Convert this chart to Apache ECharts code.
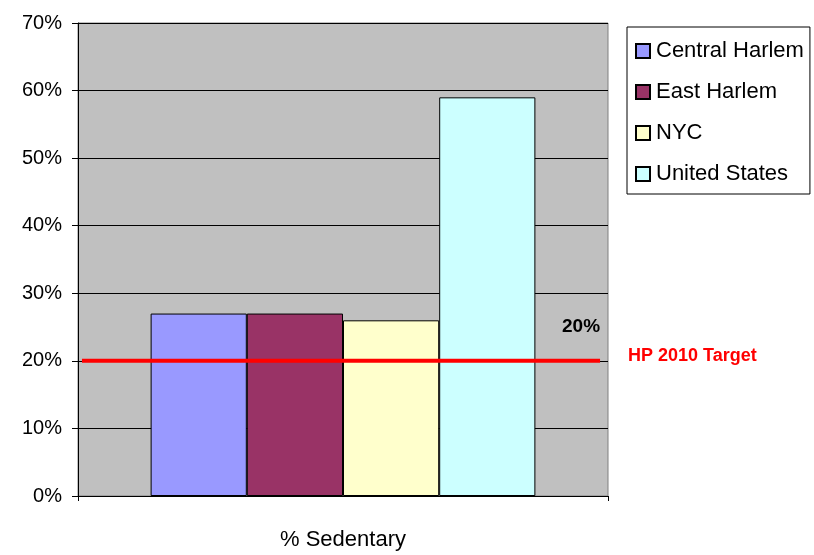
<!DOCTYPE html>
<html><head><meta charset="utf-8">
<script src="https://cdn.jsdelivr.net/npm/echarts@6/dist/echarts.min.js"></script>
<style>html,body{margin:0;padding:0;background:#fff}#c{width:814px;height:555px}</style>
</head><body><div id="c"></div>
<script>
const categories = ['% Sedentary'];
const seriesNames = ['Central Harlem', 'East Harlem', 'NYC', 'United States'];
const seriesValues = [[27], [27], [26], [59]];
const seriesColors = ['#9999ff', '#993366', '#ffffcc', '#ccffff'];
const targetValue = 20;
const targetLabel = 'HP 2010 Target';
const yTicks = [0, 10, 20, 30, 40, 50, 60, 70];

const chart = echarts.init(document.getElementById('c'), null, {renderer: 'canvas'});
const font = 'Liberation Sans, Arial, sans-serif';
const series = seriesNames.map((n, i) => ({
  name: n, type: 'bar', xAxisIndex: 0, yAxisIndex: 0,
  data: seriesValues[i],
  barGap: '0%', barCategoryGap: '27.4%',
  itemStyle: {color: seriesColors[i], borderColor: '#000', borderWidth: 1},
  emphasis: {disabled: true}, animation: false
}));
series.push({
  name: 'target', type: 'line', xAxisIndex: 1, yAxisIndex: 0,
  data: [[0.0075, targetValue], [0.985, targetValue]],
  symbol: 'none', lineStyle: {color: '#ff0000', width: 4}, silent: true,
  animation: false, z: 5,
  label: {show: false},
  markPoint: {
    symbol: 'circle', symbolSize: 0, silent: true,
    data: [
      {coord: [0.985, targetValue], value: targetValue,
       label: {show: true, formatter: targetValue + '%', position: 'left', offset: [5, -34],
         color: '#000', fontWeight: 'bold', fontSize: 19, fontFamily: font}},
      {coord: [0.985, targetValue], value: targetValue,
       label: {show: true, formatter: targetLabel, position: 'right', offset: [23, -5],
         color: '#ff0000', fontWeight: 'bold', fontSize: 18, fontFamily: font}}
    ]
  }
});

chart.setOption({
  animation: false,
  textStyle: {fontFamily: font},
  grid: {left: 78, right: 206, top: 23, bottom: 59, show: true,
    backgroundColor: '#c0c0c0', borderColor: '#808080', borderWidth: 1, containLabel: false},
  legend: {
    data: seriesNames, orient: 'vertical', left: 627, top: 27,
    backgroundColor: '#fff', borderColor: '#000', borderWidth: 1,
    padding: [13, 6, 9, 8], itemGap: 19, itemWidth: 14, itemHeight: 14,
    icon: 'rect', selectedMode: false,
    textStyle: {fontSize: 22, color: '#000', fontFamily: font, lineHeight: 22, padding: [0, 0, 0, 1]}
  },
  xAxis: [
    {type: 'category', data: categories,
     axisLine: {lineStyle: {color: '#000', width: 1}},
     axisTick: {show: true, length: 5, lineStyle: {color: '#000'}},
     axisLabel: {fontSize: 22, color: '#000', margin: 33, fontFamily: font},
     splitLine: {show: false}},
    {type: 'value', min: 0, max: 1, show: false}
  ],
  yAxis: {
    type: 'value', min: yTicks[0], max: yTicks[yTicks.length - 1], interval: 10,
    axisLine: {show: true, lineStyle: {color: '#000', width: 1}},
    axisTick: {show: true, length: 6, inside: false, lineStyle: {color: '#000'}},
    axisLabel: {fontSize: 20, color: '#000', margin: 16, formatter: v => v + '%', fontFamily: font},
    splitLine: {show: true, lineStyle: {color: '#000', width: 1}}
  },
  series: series
});
</script></body></html>
